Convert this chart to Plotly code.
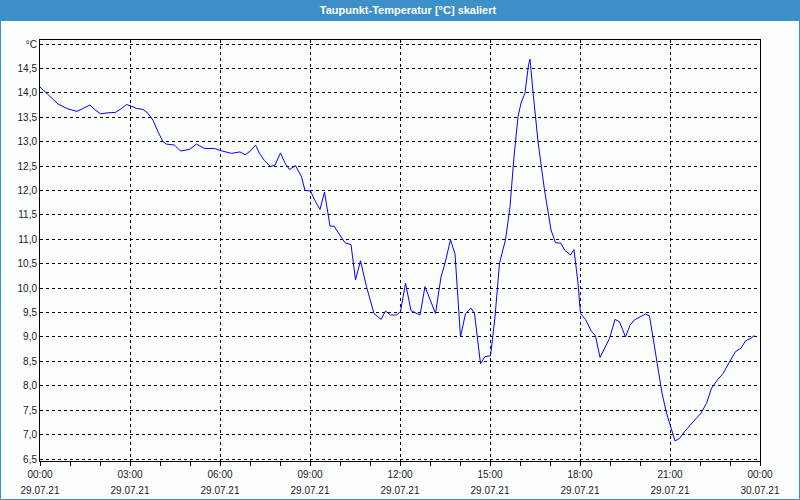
import plotly.graph_objects as go

DAY = "2021-07-29"
NEXT_DAY = "2021-07-30"

times = [
    "00:00", "00:16", "00:36", "00:56", "01:14", "01:26", "01:40", "01:49", "02:01", "02:16",
    "02:31", "02:43", "02:53", "03:02", "03:13", "03:26", "03:36", "03:46", "03:56", "04:06",
    "04:13", "04:29", "04:41", "04:59", "05:13", "05:29", "05:49", "06:00", "06:10", "06:23",
    "06:40", "06:50", "07:01", "07:11", "07:19", "07:29", "07:41", "07:50", "08:01", "08:10",
    "08:19", "08:31", "08:43", "08:50", "09:01", "09:10", "09:20", "09:29", "09:40", "09:48",
    "10:02", "10:10", "10:22", "10:26", "10:31", "10:41", "10:53", "11:08", "11:22", "11:31",
    "11:41", "11:53", "12:01", "12:11", "12:22", "12:40", "12:50", "13:11", "13:22", "13:29",
    "13:41", "13:50", "13:58", "14:01", "14:11", "14:22", "14:29", "14:37", "14:41", "14:50",
    "15:01", "15:10", "15:19", "15:31", "15:40", "15:48", "15:56", "16:02", "16:10", "16:17",
    "16:20", "16:26", "16:36", "16:49", "17:02", "17:11", "17:22", "17:29", "17:41", "17:48",
    "17:56", "18:01", "18:11", "18:22", "18:31", "18:40", "18:50", "18:59", "19:10", "19:19",
    "19:31", "19:40", "19:49", "19:59", "20:11", "20:19", "20:28", "20:36", "20:44", "20:53",
    "21:01", "21:10", "21:19", "21:29", "21:46", "22:02", "22:13", "22:23", "22:35", "22:46",
    "22:59", "23:11", "23:22", "23:31", "23:41", "23:49",
]

dewpoint = [
    14.12, 13.96, 13.77, 13.67, 13.62, 13.68, 13.75, 13.66, 13.57, 13.59,
    13.60, 13.68, 13.76, 13.73, 13.68, 13.66, 13.58, 13.44, 13.20, 13.00,
    12.95, 12.93, 12.81, 12.84, 12.95, 12.86, 12.86, 12.82, 12.79, 12.76,
    12.79, 12.73, 12.81, 12.93, 12.76, 12.61, 12.49, 12.52, 12.77, 12.56,
    12.43, 12.51, 12.28, 12.00, 11.99, 11.79, 11.61, 11.97, 11.27, 11.27,
    11.05, 10.93, 10.89, 10.51, 10.17, 10.56, 10.03, 9.48, 9.36, 9.53,
    9.45, 9.45, 9.52, 10.10, 9.54, 9.45, 10.03, 9.48, 10.23, 10.47,
    10.99, 10.70, 9.52, 9.00, 9.48, 9.59, 9.48, 8.70, 8.45, 8.60,
    8.61, 9.41, 10.51, 10.99, 11.67, 12.69, 13.51, 13.79, 14.00, 14.57,
    14.69, 14.02, 13.00, 12.01, 11.19, 10.93, 10.92, 10.78, 10.68, 10.79,
    10.10, 9.48, 9.36, 9.13, 9.02, 8.58, 8.80, 8.97, 9.36, 9.31,
    9.00, 9.24, 9.35, 9.41, 9.47, 9.43, 8.87, 8.39, 7.85, 7.44,
    7.16, 6.87, 6.92, 7.06, 7.26, 7.44, 7.64, 7.95, 8.12, 8.25,
    8.49, 8.70, 8.77, 8.92, 8.97, 9.03,
]

y_tick_vals = [6.5, 7.0, 7.5, 8.0, 8.5, 9.0, 9.5, 10.0, 10.5, 11.0, 11.5,
               12.0, 12.5, 13.0, 13.5, 14.0, 14.5, 15.0]
y_tick_text = ["6,5", "7,0", "7,5", "8,0", "8,5", "9,0", "9,5", "10,0", "10,5", "11,0",
               "11,5", "12,0", "12,5", "13,0", "13,5", "14,0", "14,5", "°C"]

title_text = "Taupunkt-Temperatur [°C] skaliert"

x_vals = [f"{DAY} {t}" for t in times]
x_start = f"{DAY} 00:00"
x_end = f"{NEXT_DAY} 00:00"

FONT = "Liberation Sans"
BAR_BLUE = "#3d8fc7"
BG = "#fcfefe"

fig = go.Figure()
fig.add_trace(go.Scatter(
    x=x_vals, y=dewpoint, mode="lines",
    line=dict(color="#0000ff", width=1),
    showlegend=False, hoverinfo="x+y",
))
# helper trace so the secondary (date) axis is rendered
fig.add_trace(go.Scatter(
    x=[x_start, x_end], y=[dewpoint[0], dewpoint[-1]], mode="none",
    xaxis="x2", yaxis="y", showlegend=False, hoverinfo="skip",
))

fig.update_layout(
    width=800, height=500,
    margin=dict(l=40, r=40, t=40, b=39, autoexpand=False),
    paper_bgcolor=BG, plot_bgcolor=BG,
    title=dict(text=title_text, x=0.51, xref="container", y=0.979, yref="container",
               xanchor="center", yanchor="middle",
               font=dict(family=FONT, size=11, color="white", weight="bold")),
    xaxis=dict(
        type="date", range=[x_start, x_end], automargin=False,
        tick0=x_start, dtick=3 * 3600000, tickformat="%H:%M",
        ticks="outside", ticklen=4, tickcolor="black", tickwidth=1,
        minor=dict(dtick=3600000, ticks="outside", ticklen=4, tickcolor="black", showgrid=False),
        showgrid=True, gridcolor="black", griddash="3px,3px", gridwidth=1,
        showline=True, linecolor="black", linewidth=1, mirror=True,
        zeroline=False,
        tickfont=dict(family=FONT, size=10, color="#1a1a1a"),
    ),
    xaxis2=dict(
        type="date", matches="x", overlaying="x", side="bottom", automargin=False,
        tick0=x_start, dtick=3 * 3600000, tickformat="%d.%m.%y",
        ticks="", showgrid=False, showline=False, zeroline=False,
        ticklabelstandoff=22,
        tickfont=dict(family=FONT, size=10, color="#1a1a1a"),
    ),
    yaxis=dict(
        range=[6.459, 15.082], automargin=False,
        tickvals=y_tick_vals, ticktext=y_tick_text,
        ticks="", showgrid=True, gridcolor="black", griddash="3px,3px", gridwidth=1,
        showline=True, linecolor="black", linewidth=1, mirror=True,
        zeroline=False,
        tickfont=dict(family=FONT, size=10, color="#1a1a1a"),
    ),
    shapes=[
        dict(type="rect", xref="paper", yref="paper",
             x0=-40 / 720, x1=760 / 720, y0=(461 - 21) / 421, y1=461 / 421,
             fillcolor=BAR_BLUE, line=dict(width=0), layer="above"),
        dict(type="rect", xref="paper", yref="paper",
             x0=(0.5 - 40) / 720, x1=(799.5 - 40) / 720,
             y0=(461 - 499.5) / 421, y1=461 / 421,
             fillcolor="rgba(0,0,0,0)", line=dict(color=BAR_BLUE, width=1), layer="above"),
    ],
)

fig.write_html(
    "out.html",
    config={"displayModeBar": False},
    post_script="document.body.style.margin='0';document.body.style.overflow='hidden';",
)
